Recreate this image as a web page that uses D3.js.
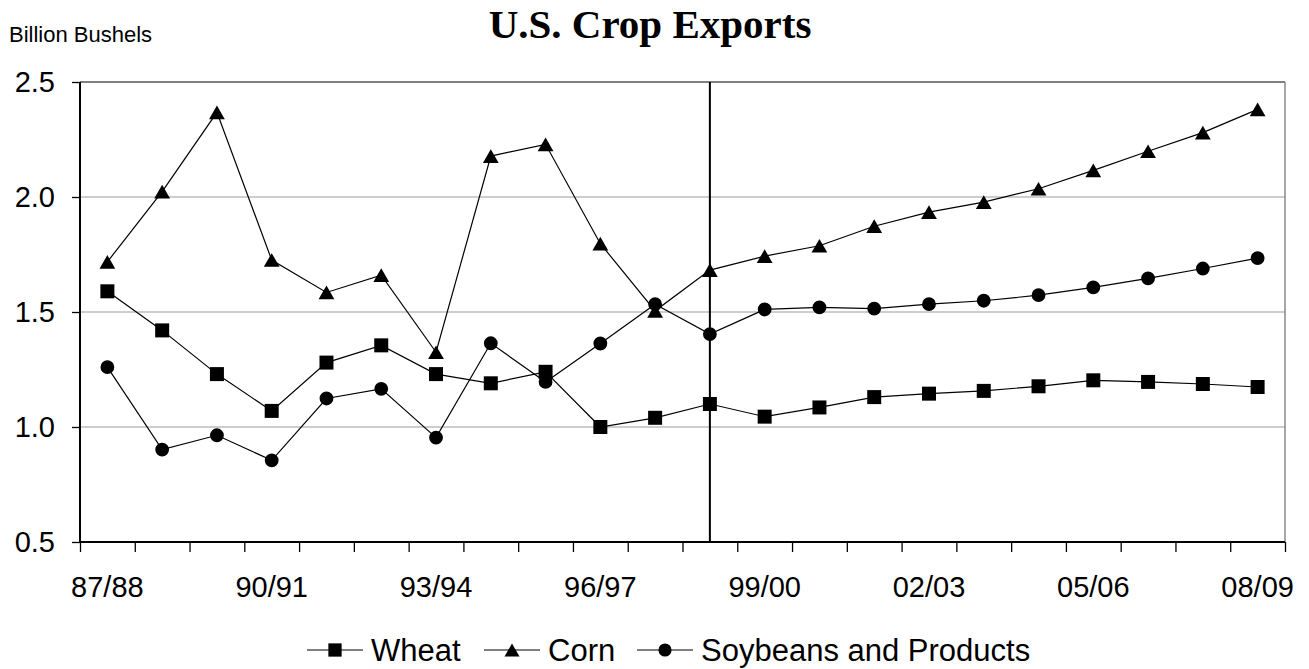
<!doctype html>
<html lang="en">
<head>
<meta charset="utf-8">
<title>U.S. Crop Exports</title>
<script src="https://d3js.org/d3.v7.min.js"></script>
<style>
  body { margin: 0; background: #fff; }
  svg { display: block; font-family: "Liberation Sans", Arial, sans-serif; }
  .axis path { display: none; }
  .axis line { stroke: #000; stroke-width: 1.3; }
</style>
</head>
<body>
<svg id="chart" width="1309" height="669"></svg>
<script>
// marketing years
var seasons = ["87/88", "88/89", "89/90", "90/91", "91/92", "92/93", "93/94", "94/95", "95/96", "96/97", "97/98",
               "98/99", "99/00", "00/01", "01/02", "02/03", "03/04", "04/05", "05/06", "06/07", "07/08", "08/09"];
var labelledSeasons = ["87/88", "90/91", "93/94", "96/97", "99/00", "02/03", "05/06", "08/09"];
var yTicks = [0.5, 1.0, 1.5, 2.0, 2.5];
var splitSeason = "98/99";

// billion bushels
var wheat = [1.59, 1.42, 1.23, 1.07, 1.28, 1.355, 1.23, 1.19, 1.24, 1.00, 1.04,
             1.10, 1.045, 1.085, 1.13, 1.145, 1.157, 1.177, 1.203, 1.196, 1.187, 1.174];
var corn = [1.718, 2.023, 2.368, 1.726, 1.585, 1.66, 1.325, 2.178, 2.229, 1.797, 1.505,
            1.682, 1.743, 1.788, 1.873, 1.934, 1.978, 2.036, 2.116, 2.199, 2.28, 2.381];
var soybeans = [1.26, 0.902, 0.964, 0.855, 1.124, 1.166, 0.954, 1.364, 1.196, 1.363, 1.534,
                1.404, 1.511, 1.52, 1.515, 1.534, 1.549, 1.573, 1.607, 1.646, 1.689, 1.734];

var series = [
  { name: "Wheat", values: wheat, symbol: d3.symbolSquare, size: 196 },
  { name: "Corn", values: corn, symbol: d3.symbolTriangle, size: 108 },
  { name: "Soybeans and Products", values: soybeans, symbol: d3.symbolCircle, size: 150 }
];

var plotLeft = 80, plotRight = 1285, plotTop = 82, plotBottom = 542;

var svg = d3.select("#chart");

var x = d3.scaleBand().domain(seasons).range([plotLeft, plotRight]).padding(0);
var xEdge = d3.scaleLinear().domain([0, seasons.length]).range([plotLeft, plotRight]);
var y = d3.scaleLinear().domain([0.5, 2.5]).range([plotBottom, plotTop]);

function cx(s) { return x(s) + x.bandwidth() / 2; }

// triangle in d3 sits on its centroid, shift so the box is centred
function markerOffset(sym, size) {
  if (sym !== d3.symbolTriangle) return 0;
  return Math.sqrt(size / (Math.sqrt(3) * 3)) / 2;
}

// gridlines
svg.append("g").selectAll("line")
  .data(yTicks.filter(function(d) { return d > 0.5 && d < 2.5; }))
  .enter().append("line")
  .attr("x1", plotLeft).attr("x2", plotRight)
  .attr("y1", function(d) { return y(d); }).attr("y2", function(d) { return y(d); })
  .attr("stroke", "#bdbdbd").attr("stroke-width", 1.3);

// plot border top / right
svg.append("line").attr("x1", plotLeft).attr("x2", plotRight).attr("y1", y(2.5)).attr("y2", y(2.5))
  .attr("stroke", "#555").attr("stroke-width", 1.3);
svg.append("line").attr("x1", plotRight).attr("x2", plotRight).attr("y1", plotTop).attr("y2", plotBottom)
  .attr("stroke", "#777").attr("stroke-width", 1.3);

// y axis
var yAxis = svg.append("g").attr("class", "axis")
  .attr("transform", "translate(" + plotLeft + ",0)")
  .call(d3.axisLeft(y).tickValues(yTicks).tickFormat(d3.format(".1f")).tickSize(8).tickPadding(17));
yAxis.selectAll("text").attr("font-size", 29).attr("fill", "#000").attr("font-family", "Liberation Sans, Arial");

// x axis ticks on category edges
svg.append("g").attr("class", "axis")
  .attr("transform", "translate(0," + plotBottom + ")")
  .call(d3.axisBottom(xEdge).tickValues(d3.range(seasons.length + 1)).tickFormat("").tickSize(10));

// x labels at category centres
var xAxis = svg.append("g").attr("class", "axis")
  .attr("transform", "translate(0," + plotBottom + ")")
  .call(d3.axisBottom(x).tickValues(labelledSeasons).tickSize(0).tickPadding(34));
xAxis.selectAll("text").attr("font-size", 29).attr("fill", "#000").attr("font-family", "Liberation Sans, Arial");

// axis lines
svg.append("line").attr("x1", plotLeft).attr("x2", plotLeft).attr("y1", plotTop).attr("y2", plotBottom)
  .attr("stroke", "#000").attr("stroke-width", 2);
svg.append("line").attr("x1", plotLeft).attr("x2", plotRight).attr("y1", plotBottom).attr("y2", plotBottom)
  .attr("stroke", "#000").attr("stroke-width", 2);

// projection divider
svg.append("line")
  .attr("x1", cx(splitSeason)).attr("x2", cx(splitSeason))
  .attr("y1", plotTop).attr("y2", plotBottom)
  .attr("stroke", "#000").attr("stroke-width", 2);

var line = d3.line()
  .x(function(d, i) { return cx(seasons[i]); })
  .y(function(d) { return y(d); });

series.forEach(function(s) {
  var g = svg.append("g");
  g.append("path").datum(s.values)
    .attr("d", line).attr("fill", "none").attr("stroke", "#000").attr("stroke-width", 1.2);
  var off = markerOffset(s.symbol, s.size);
  g.selectAll("path.mark").data(s.values).enter().append("path")
    .attr("class", "mark")
    .attr("d", d3.symbol().type(s.symbol).size(s.size))
    .attr("transform", function(d, i) { return "translate(" + cx(seasons[i]) + "," + (y(d) + off) + ")"; })
    .attr("fill", "#000");
});

// titles
svg.append("text").attr("x", 650).attr("y", 38).attr("text-anchor", "middle")
  .attr("font-family", "Liberation Serif, Times New Roman, serif").attr("font-weight", "bold")
  .attr("font-size", 41).text("U.S. Crop Exports");
svg.append("text").attr("x", 9).attr("y", 42)
  .attr("font-size", 22).text("Billion Bushels");

// legend
var legendX = [307, 484, 637];
var legendY = 650;
var legend = svg.append("g");
series.forEach(function(s, i) {
  var g = legend.append("g").attr("transform", "translate(" + legendX[i] + "," + legendY + ")");
  g.append("line").attr("x1", 0).attr("x2", 56).attr("y1", 0).attr("y2", 0)
    .attr("stroke", "#000").attr("stroke-width", 1.2);
  g.append("path").attr("d", d3.symbol().type(s.symbol).size(s.size * 0.9))
    .attr("transform", "translate(28," + markerOffset(s.symbol, s.size * 0.9) + ")").attr("fill", "#000");
  g.append("text").attr("x", 64).attr("y", 11).attr("font-size", 31).text(s.name);
});
</script>
</body>
</html>
